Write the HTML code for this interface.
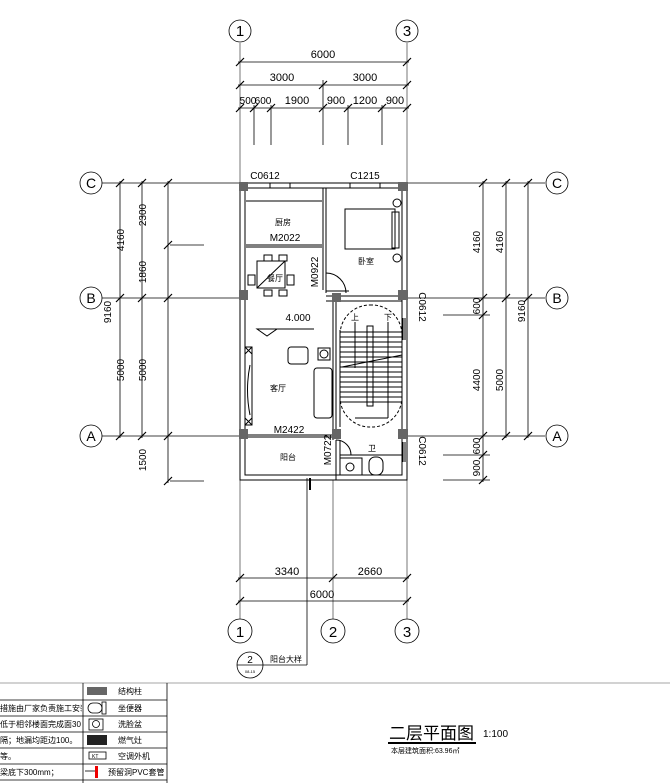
<!DOCTYPE html>
<html><head><meta charset="utf-8"><style>
html,body{margin:0;padding:0;background:#fff;}
svg{display:block;}
text{font-family:"Liberation Sans","Noto Sans CJK SC",sans-serif;fill:#000;}
</style></head><body>
<svg width="670" height="783" viewBox="0 0 670 783" xmlns="http://www.w3.org/2000/svg">
<defs><clipPath id="c1"><rect x="0" y="683" width="82" height="100"/></clipPath></defs>
<g stroke="#000" stroke-width="0.8" fill="none">
<line x1="240" y1="43" x2="240" y2="183" stroke="#555"/>
<line x1="407" y1="43" x2="407" y2="183" stroke="#555"/>
<line x1="240" y1="480" x2="240" y2="619" stroke="#555"/>
<line x1="407" y1="480" x2="407" y2="619" stroke="#555"/>
<line x1="333" y1="480" x2="333" y2="619" stroke="#555"/>
<line x1="102" y1="183" x2="240" y2="183"/><line x1="407" y1="183" x2="545" y2="183"/>
<line x1="102" y1="298" x2="240" y2="298"/><line x1="407" y1="298" x2="545" y2="298"/>
<line x1="102" y1="436" x2="240" y2="436"/><line x1="407" y1="436" x2="545" y2="436"/>
<line x1="170" y1="245" x2="204" y2="245"/><line x1="170" y1="481" x2="204" y2="481"/>
<line x1="443" y1="315" x2="490" y2="315"/><line x1="443" y1="455" x2="490" y2="455"/><line x1="443" y1="480" x2="490" y2="480"/>
<line x1="238" y1="62" x2="409" y2="62"/>
<line x1="238" y1="85" x2="409" y2="85"/><line x1="323" y1="80" x2="323" y2="107"/>
<line x1="238" y1="108" x2="409" y2="108"/>
<line x1="254" y1="105" x2="254" y2="145"/><line x1="271" y1="105" x2="271" y2="145"/>
<line x1="323" y1="108" x2="323" y2="145"/><line x1="348" y1="105" x2="348" y2="145"/><line x1="382" y1="105" x2="382" y2="145"/>
<line x1="120" y1="181" x2="120" y2="438"/><line x1="142" y1="181" x2="142" y2="438"/><line x1="168" y1="181" x2="168" y2="483"/>
<line x1="483" y1="181" x2="483" y2="482"/><line x1="506" y1="181" x2="506" y2="438"/><line x1="528" y1="181" x2="528" y2="438"/>
<line x1="238" y1="578" x2="409" y2="578"/><line x1="238" y1="601" x2="409" y2="601"/>
<line x1="307" y1="478" x2="307" y2="665"/><line x1="307" y1="665" x2="263" y2="665"/>
<line x1="310" y1="478" x2="310" y2="490" stroke-width="2"/>
<g stroke-width="1.2">
<path d="M236 66l8-8M403 66l8-8M236 89l8-8M319 89l8-8M403 89l8-8M236 112l8-8M250 112l8-8M267 112l8-8M319 112l8-8M344 112l8-8M378 112l8-8M403 112l8-8"/>
<path d="M116 187l8-8M116 302l8-8M116 440l8-8M138 187l8-8M138 302l8-8M138 440l8-8M164 187l8-8M164 249l8-8M164 302l8-8M164 440l8-8M164 485l8-8"/>
<path d="M479 187l8-8M479 302l8-8M479 319l8-8M479 440l8-8M479 459l8-8M479 484l8-8M502 187l8-8M502 302l8-8M502 440l8-8M524 187l8-8M524 302l8-8M524 440l8-8"/>
<path d="M236 582l8-8M329 582l8-8M403 582l8-8M236 605l8-8M403 605l8-8"/>
</g>
<circle cx="240" cy="31" r="11"/><circle cx="407" cy="31" r="11"/>
<circle cx="240" cy="631" r="12"/><circle cx="333" cy="631" r="12"/><circle cx="407" cy="631" r="12"/>
<circle cx="91" cy="183" r="11"/><circle cx="91" cy="298" r="11"/><circle cx="91" cy="436" r="11"/>
<circle cx="557" cy="183" r="11"/><circle cx="557" cy="298" r="11"/><circle cx="557" cy="436" r="11"/>
<circle cx="250" cy="665" r="13"/><line x1="237" y1="665" x2="263" y2="665"/>
<g stroke-width="1">
<rect x="240" y="183" width="167" height="297"/>
<rect x="245" y="188" width="157" height="287"/>
<line x1="246" y1="245" x2="322" y2="245"/><line x1="246" y1="247" x2="322" y2="247"/>
<line x1="323" y1="188" x2="323" y2="290"/><line x1="326" y1="188" x2="326" y2="290"/>
<line x1="326" y1="291" x2="349" y2="291"/><line x1="326" y1="296" x2="402" y2="296"/><line x1="326" y1="301" x2="402" y2="301"/>
<line x1="333" y1="301" x2="333" y2="440"/><line x1="336" y1="301" x2="336" y2="436"/>
<line x1="246" y1="435" x2="333" y2="435"/><line x1="246" y1="437" x2="333" y2="437"/>
<line x1="336" y1="440" x2="336" y2="480"/><line x1="340" y1="440" x2="340" y2="475"/>
<line x1="340" y1="455" x2="402" y2="455"/>
<line x1="246" y1="201" x2="322" y2="201"/>
<path d="M270 183v5M290 183v5M350 183v5M380 183v5"/>
<path d="M403 318v22M405 318v22M403 442v20M405 442v20"/>
<path d="M326 273a20 20 0 0 1 20 20"/><line x1="326" y1="273" x2="326" y2="293"/>
<path d="M336 440a15 15 0 0 1 15 15"/>
<rect x="340" y="305" width="62" height="122" rx="30" stroke-dasharray="3,2"/>
<line x1="340" y1="330" x2="340" y2="427"/>
<path d="M340 332h62M340 337h62M340 342h62M340 347h62M340 352h62M340 357h62M340 362h62M340 367h62M340 372h62M340 377h62M340 382h62M340 387h62M340 392h62M340 397h62M340 402h62"/>
<rect x="367" y="326" width="6" height="80"/>
<line x1="355" y1="322" x2="355" y2="368"/><line x1="388" y1="322" x2="388" y2="418"/>
<line x1="355" y1="418" x2="388" y2="418"/><line x1="342" y1="367" x2="402" y2="355"/>
<rect x="345" y="209" width="50" height="40"/><rect x="392" y="212" width="7" height="36"/>
<circle cx="397" cy="203" r="4"/><circle cx="397" cy="258" r="4"/>
<rect x="257" y="261" width="28" height="27"/><line x1="257" y1="288" x2="285" y2="261"/>
<rect x="264" y="255" width="8" height="6"/><rect x="279" y="255" width="8" height="6"/>
<rect x="264" y="290" width="8" height="6"/><rect x="279" y="290" width="8" height="6"/>
<rect x="248" y="275" width="7" height="10"/><rect x="287" y="275" width="7" height="10"/>
<rect x="245" y="347" width="7" height="78"/><path d="M245 347l7 7M252 347l-7 7M245 418l7 7M252 418l-7 7"/>
<path d="M250 365q-5 25 0 50"/>
<rect x="288" y="347" width="20" height="17" rx="3"/><rect x="318" y="348" width="12" height="12"/><circle cx="324" cy="354" r="4"/>
<rect x="314" y="368" width="18" height="50" rx="3"/>
<path d="M257 329l10 7l10-7z"/><line x1="257" y1="329" x2="314" y2="329"/>
<rect x="340" y="458" width="22" height="17"/><circle cx="350" cy="467" r="4"/>
<rect x="369" y="457" width="14" height="18" rx="6"/>
</g>
</g>
<g fill="#666">
<rect x="239" y="182" width="9" height="9"/><rect x="398" y="182" width="10" height="9"/>
<rect x="239" y="290" width="9" height="10"/><rect x="332" y="293" width="9" height="9"/><rect x="398" y="290" width="10" height="10"/>
<rect x="239" y="429" width="9" height="10"/><rect x="332" y="429" width="9" height="10"/><rect x="398" y="429" width="10" height="10"/>
</g>
<g font-size="11" text-anchor="middle">
<text x="240" y="36" font-size="15">1</text>
<text x="407" y="36" font-size="15">3</text>
<text x="240" y="637" font-size="15">1</text><text x="333" y="637" font-size="15">2</text><text x="407" y="637" font-size="15">3</text>
<text x="91" y="188" font-size="14" font-family="Liberation Serif">C</text><text x="91" y="303" font-size="14" font-family="Liberation Serif">B</text><text x="91" y="441" font-size="14" font-family="Liberation Serif">A</text>
<text x="557" y="188" font-size="14" font-family="Liberation Serif">C</text><text x="557" y="303" font-size="14" font-family="Liberation Serif">B</text><text x="557" y="441" font-size="14" font-family="Liberation Serif">A</text>
<text x="323" y="58">6000</text>
<text x="282" y="81">3000</text><text x="365" y="81">3000</text>
<text x="248" y="104" font-size="10">500</text><text x="263" y="104" font-size="10">600</text><text x="297" y="104">1900</text><text x="336" y="104">900</text><text x="365" y="104">1200</text><text x="395" y="104">900</text>
<text x="287" y="575">3340</text><text x="370" y="575">2660</text><text x="322" y="598">6000</text>
<text x="265" y="179" font-size="10">C0612</text><text x="365" y="179" font-size="10">C1215</text>
<text x="285" y="241" font-size="10">M2022</text>
<text x="289" y="433" font-size="10">M2422</text>
<text x="298" y="321" font-size="10">4.000</text>
<text x="283" y="225" font-size="8">厨房</text><text x="275" y="281" font-size="8">餐厅</text>
<text x="366" y="264" font-size="8">卧室</text><text x="278" y="391" font-size="8">客厅</text>
<text x="288" y="460" font-size="8">阳台</text><text x="372" y="451" font-size="8">卫</text>
<text x="355" y="320" font-size="8">上</text><text x="388" y="320" font-size="8">下</text>
<text x="286" y="662" font-size="8">阳台大样</text>
<text x="250" y="663" font-size="10">2</text>
<text x="250" y="673" font-size="4">08-15</text>
</g>
<g font-size="10" text-anchor="middle">
<text transform="translate(146,215) rotate(-90)">2300</text>
<text transform="translate(146,272) rotate(-90)">1860</text>
<text transform="translate(124,240) rotate(-90)">4160</text>
<text transform="translate(124,370) rotate(-90)">5000</text>
<text transform="translate(146,370) rotate(-90)">5000</text>
<text transform="translate(146,460) rotate(-90)">1500</text>
<text transform="translate(111,312) rotate(-90)">9160</text>
<text transform="translate(480,242) rotate(-90)">4160</text>
<text transform="translate(503,242) rotate(-90)">4160</text>
<text transform="translate(480,306) rotate(-90)">600</text>
<text transform="translate(480,380) rotate(-90)">4400</text>
<text transform="translate(503,380) rotate(-90)">5000</text>
<text transform="translate(525,311) rotate(-90)">9160</text>
<text transform="translate(480,446) rotate(-90)">600</text>
<text transform="translate(480,468) rotate(-90)">900</text>
<text transform="translate(419,307) rotate(90)">C0612</text>
<text transform="translate(419,451) rotate(90)">C0612</text>
<text transform="translate(318,272) rotate(-90)">M0922</text>
<text transform="translate(331,450) rotate(-90)">M0722</text>
</g>
<g stroke="#000" stroke-width="0.8" fill="none">
<line x1="0" y1="683" x2="670" y2="683" stroke="#888"/>
<path d="M0 700H167M0 716H167M0 732H167M0 748H167M0 764H167M0 780H167"/>
<line x1="83" y1="683" x2="83" y2="783"/><line x1="167" y1="683" x2="167" y2="783"/>
<rect x="88" y="703" width="14" height="10" rx="5"/><rect x="102" y="702" width="4" height="12"/>
<rect x="89" y="719" width="14" height="11"/><circle cx="96" cy="724" r="3.5"/>
<rect x="89" y="752" width="17" height="7"/>
<line x1="85" y1="771" x2="98" y2="771"/>
</g>
<rect x="87" y="687" width="20" height="8" fill="#666"/>
<rect x="87" y="735" width="20" height="10" fill="#222"/>
<rect x="95" y="766" width="3" height="12" fill="#e00"/>
<g font-size="8">
<text x="118" y="694">结构柱</text><text x="118" y="711">坐便器</text><text x="118" y="727">洗脸盆</text>
<text x="118" y="743">燃气灶</text><text x="118" y="759">空调外机</text><text x="108" y="775">预留洞PVC套管</text>
<g clip-path="url(#c1)">
<text x="0" y="711">措施由厂家负责施工安装；</text>
<text x="0" y="727">低于相邻楼面完成面30</text>
<text x="0" y="743">隔；地漏均距边100。</text>
<text x="0" y="759">等。</text>
<text x="0" y="775">梁底下300mm；</text>
</g>
<text x="92" y="758" font-size="5">KT</text>
</g>
<text x="389" y="739" font-size="17">二层平面图</text>
<text x="483" y="737" font-size="10">1:100</text>
<rect x="388" y="742" width="88" height="2" fill="#000"/>
<text x="391" y="753" font-size="7">本层建筑面积:63.96㎡</text>
</svg>
</body></html>
